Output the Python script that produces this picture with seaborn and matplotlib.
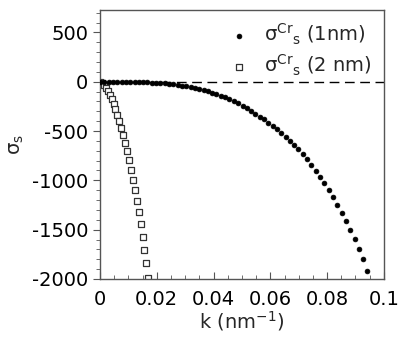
import numpy as np
import pandas as pd
import matplotlib
matplotlib.use("Agg")
import matplotlib.pyplot as plt
import matplotlib.ticker as mticker
import seaborn as sns

# 1 nm series (filled circles)
k_1nm = [0.0000, 0.0015, 0.0030, 0.0046, 0.0061, 0.0076, 0.0091, 0.0106, 0.0122, 0.0137,
         0.0152, 0.0167, 0.0182, 0.0198, 0.0213, 0.0228, 0.0243, 0.0258, 0.0274, 0.0289,
         0.0304, 0.0319, 0.0334, 0.0350, 0.0365, 0.0380, 0.0395, 0.0410, 0.0426, 0.0441,
         0.0456, 0.0471, 0.0486, 0.0502, 0.0517, 0.0532, 0.0547, 0.0562, 0.0578, 0.0593,
         0.0608, 0.0623, 0.0638, 0.0654, 0.0669, 0.0684, 0.0699, 0.0714, 0.0730, 0.0745,
         0.0760, 0.0775, 0.0790, 0.0806, 0.0821, 0.0836, 0.0851, 0.0866, 0.0882, 0.0897,
         0.0912, 0.0927, 0.0942]
s_1nm = [0, 0, 0, -0.1, -0.2, -0.5, -0.9, -1.5, -2.3, -3.3,
         -4.7, -6.5, -8.6, -11, -14, -18, -22, -27, -33, -39,
         -46, -55, -64, -74, -85, -97, -110, -125, -141, -158,
         -177, -197, -219, -243, -268, -295, -323, -354, -383, -415,
         -448, -483, -520, -558, -598, -641, -687, -736, -788, -843,
         -901, -964, -1030, -1099, -1172, -1249, -1330, -1414, -1503, -1596,
         -1694, -1800, -1915]

# 2 nm series (open squares)
k_2nm = [0.0000, 0.0007, 0.0014, 0.0020, 0.0027, 0.0034, 0.0041, 0.0048, 0.0054, 0.0061,
         0.0068, 0.0075, 0.0082, 0.0088, 0.0095, 0.0102, 0.0109, 0.0116, 0.0122, 0.0129,
         0.0136, 0.0143, 0.0150, 0.0156, 0.0163, 0.0170]
s_2nm = [0, -16, -38, -64, -96, -134, -176, -224, -277, -335,
         -399, -468, -542, -621, -706, -796, -891, -992, -1097, -1208,
         -1325, -1446, -1573, -1705, -1842, -1985]

sns.set_style("ticks")
plt.rcParams["font.family"] = ["DejaVu Sans"]
plt.rcParams["axes.unicode_minus"] = False

fig = plt.figure(figsize=(4.15, 3.39), dpi=100)
ax = fig.add_axes([0.241, 0.177, 0.684, 0.793])

df1 = pd.DataFrame({"k": k_1nm, "s": s_1nm})
df2 = pd.DataFrame({"k": k_2nm, "s": s_2nm})

ax.axhline(0, color="black", linestyle=(0, (7, 4)), linewidth=1.0, zorder=1)
sns.scatterplot(data=df2, x="k", y="s", ax=ax, marker="s", s=15,
                facecolor="white", edgecolor="#333333", linewidth=0.9,
                label=r"σ$^{\rm Cr}{}_{\rm s}$ (2 nm)", zorder=2)
sns.scatterplot(data=df1, x="k", y="s", ax=ax, marker="o", s=12,
                color="black", edgecolor="black", linewidth=0.5,
                label=r"σ$^{\rm Cr}{}_{\rm s}$ (1nm)", zorder=3)

ax.set_xlim(0, 0.1)
ax.set_ylim(-2000, 725)
ax.xaxis.set_major_locator(mticker.MultipleLocator(0.02))
ax.xaxis.set_minor_locator(mticker.MultipleLocator(0.005))
ax.yaxis.set_major_locator(mticker.MultipleLocator(500))
ax.yaxis.set_minor_locator(mticker.MultipleLocator(100))
ax.xaxis.set_major_formatter(mticker.FuncFormatter(lambda v, p: f"{v:g}"))
ax.yaxis.set_major_formatter(mticker.FuncFormatter(lambda v, p: f"{v:g}"))

ax.tick_params(axis="x", which="both", direction="in", colors="#555555",
               labelcolor="black", labelsize=14, pad=8)
ax.tick_params(axis="x", which="major", length=5)
ax.tick_params(axis="x", which="minor", length=3)
ax.tick_params(axis="y", which="both", direction="out", colors="#555555",
               labelcolor="black", labelsize=14)
ax.tick_params(axis="y", which="major", length=5)
ax.tick_params(axis="y", which="minor", length=3)
for sp in ax.spines.values():
    sp.set_visible(True)
    sp.set_color("#555555")
    sp.set_linewidth(1.0)

ax.set_xlabel(r"k (nm$^{-1}$)", fontsize=14, labelpad=0)
ax.set_ylabel(r"σ$_{\rm s}$", fontsize=14, labelpad=4)

h, l = ax.get_legend_handles_labels()
ax.legend(h[::-1], l[::-1], loc="upper right", frameon=False, fontsize=14,
          handletextpad=0.3, borderaxespad=0.2, labelspacing=0.3)

fig.savefig("out.png", dpi=100)
